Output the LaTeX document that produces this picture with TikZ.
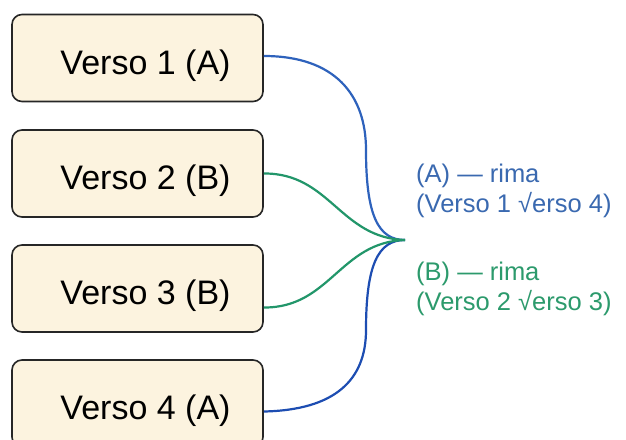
\documentclass[tikz,border=0pt]{standalone}
\usepackage{fontspec}
\setmainfont{Liberation Sans}
\newcommand{\vtext}[1]{\hspace*{16pt}\raisebox{-16pt}[0pt][0pt]{#1}}
\begin{document}
\begin{tikzpicture}[x=1pt,y=-1pt,
  versebox/.style={draw=black!85,line width=1.6pt,fill=cream,rounded corners=10pt,
    minimum width=251pt,minimum height=87pt,inner sep=0pt,font=\fontsize{34}{40}\selectfont},
  bluelink/.style={draw=linkblue,line width=2.2pt},
  greenlink/.style={draw=linkgreen,line width=2.2pt},
  legend/.style={anchor=north west,align=left,inner sep=0pt,font=\fontsize{25.5}{29.5}\selectfont}]
\definecolor{cream}{HTML}{FCF3DF}
\definecolor{linkblue}{HTML}{2E62BC}
\definecolor{linkblue2}{HTML}{1D4DB2}
\definecolor{linkgreen}{HTML}{22966A}
\definecolor{textblue}{HTML}{3A69B0}
\definecolor{textgreen}{HTML}{2C9A6C}
\useasboundingbox[fill=white] (0,0) rectangle (626,439);
\node[versebox] (b1) at (137.5,58) {\vtext{Verso 1 (A)}};
\node[versebox] (b2) at (137.5,173.5) {\vtext{Verso 2 (B)}};
\node[versebox] (b3) at (137.5,288.5) {\vtext{Verso 3 (B)}};
\node[versebox] (b4) at (137.5,403.5) {\vtext{Verso 4 (A)}};
\coordinate (m) at (405,240);
\draw[bluelink] ([yshift=2pt]b1.east) .. controls (335,56) and (366,95) .. (366,150)
  .. controls (366,215) and (378,240) .. (m);
\draw[bluelink,draw=linkblue2] ([yshift=-8pt]b4.east) .. controls (335,410) and (366,380) .. (366,330)
  .. controls (366,265) and (378,240) .. (m);
\draw[greenlink] (b2.east) .. controls (330,173) and (340,238) .. (m);
\draw[greenlink] ([yshift=-19pt]b3.east) .. controls (330,308) and (340,242) .. (m);
\node[legend,text=textblue] (la) at (416,164) {(A) — rima\\(Verso 1 √erso 4)};
\node[legend,text=textgreen] (lb) at (416,262) {(B) — rima\\(Verso 2 √erso 3)};
\end{tikzpicture}
\end{document}
